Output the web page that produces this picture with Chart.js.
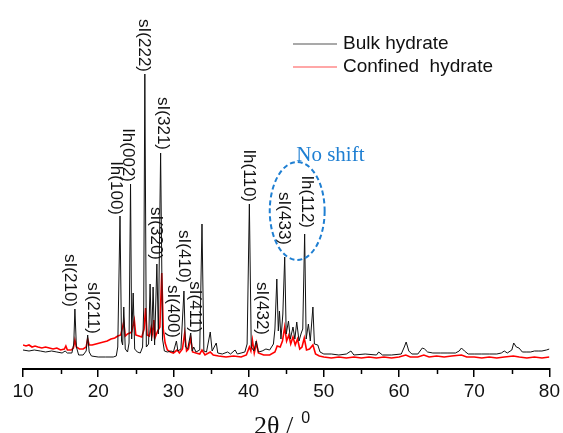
<!DOCTYPE html>
<html>
<head>
<meta charset="utf-8">
<script src="https://cdn.jsdelivr.net/npm/chart.js@4"></script>
<style>
  html, body { margin: 0; padding: 0; background: #fff; }
</style>
</head>
<body>
<canvas id="xrd" width="563" height="433"></canvas>
<script>
// ── Data ──────────────────────────────────────────────
const bulkTheta = [
  10.0, 10.8, 11.5, 12.3, 13.0, 13.8, 14.5, 15.2, 15.6, 15.9, 16.5, 16.75, 16.9, 17.1, 17.4, 18.0, 18.4, 18.6, 18.8, 19.1,
  20.0, 21.0, 22.0, 22.4, 22.6, 22.9, 23.1, 23.25, 23.4, 23.6, 23.9, 24.1, 24.3, 24.45, 24.65, 24.85, 25.2, 25.6, 25.9, 26.05,
  26.2, 26.4, 26.7, 26.9, 27.1, 27.3, 27.5, 27.8, 28.0, 28.3, 28.55, 28.8, 29.2, 29.7, 30.0, 30.4, 30.6, 31.0, 31.4, 31.6,
  31.9, 32.3, 32.5, 32.7, 33.0, 33.5, 33.8, 34.05, 34.4, 34.9, 35.15, 35.7, 35.9, 36.5, 37.2, 37.6, 38.2, 38.5, 39.0, 39.5,
  39.8, 40.1, 40.35, 40.7, 41.0, 41.3, 41.8, 42.3, 42.8, 43.3, 43.5, 43.75, 43.95, 44.1, 44.3, 44.55, 44.8, 45.0, 45.3, 45.55,
  45.9, 46.15, 46.4, 46.7, 47.0, 47.2, 47.45, 47.65, 47.95, 48.2, 48.55, 48.75, 49.2, 49.5, 50.0, 51.0, 52.0, 53.0, 53.6, 54.0,
  55.5, 57.0, 57.3, 57.8, 59.0, 60.3, 60.7, 60.95, 61.3, 61.7, 62.5, 63.1, 63.4, 63.8, 64.5, 65.5, 66.5, 67.5, 68.0, 68.3,
  68.7, 69.2, 70.0, 71.0, 72.0, 73.0, 73.6, 74.0, 74.4, 75.0, 75.25, 75.6, 75.95, 76.4, 77.0, 77.5, 78.0, 78.5, 79.0, 79.6, 80.0
];
const bulkCounts = [
  19, 18, 19, 18, 17, 18, 17, 16, 18, 16, 16, 25, 60, 22, 14, 14, 18, 34, 17, 13,
  12, 12, 12, 13, 22, 153, 28, 24, 62, 20, 17, 26, 185, 30, 76, 20, 17, 16, 22, 60,
  295, 22, 25, 85, 28, 82, 24, 105, 35, 216, 30, 18, 17, 18, 17, 28, 18, 20, 78, 22,
  20, 36, 18, 22, 17, 19, 145, 18, 17, 37, 18, 26, 16, 15, 17, 15, 19, 15, 16, 17,
  25, 165, 22, 18, 28, 17, 18, 20, 19, 25, 40, 90, 38, 58, 30, 55, 112, 35, 48, 30,
  42, 30, 47, 28, 36, 40, 135, 30, 45, 28, 62, 25, 24, 17, 15, 15, 14, 15, 18, 14,
  15, 14, 17, 14, 14, 15, 22, 27, 18, 15, 15, 21, 20, 17, 16, 16, 16, 16, 18, 21,
  18, 15, 15, 15, 15, 15, 16, 18, 16, 19, 26, 22, 21, 17, 17, 17, 18, 18, 18, 19, 20
];

const confinedTheta = [
  10.0, 10.4, 10.8, 11.2, 11.6, 12.0, 12.5, 13.0, 13.5, 14.0, 14.5, 15.0, 15.5, 15.7, 15.9, 16.4, 16.7, 16.9, 17.1, 17.5,
  18.0, 18.4, 18.6, 18.8, 19.2, 19.7, 20.2, 20.7, 21.2, 21.7, 22.2, 22.6, 23.0, 23.4, 23.6, 23.9, 24.2, 24.45, 24.8, 25.0,
  25.4, 25.8, 26.1, 26.3, 26.5, 26.8, 27.05, 27.25, 27.4, 27.6, 27.9, 28.2, 28.45, 28.65, 28.9, 29.2, 29.6, 30.0, 30.5, 30.8,
  31.2, 31.5, 31.75, 32.0, 32.3, 32.55, 33.0, 33.5, 33.8, 34.2, 34.9, 35.3, 36.0, 37.0, 38.0, 39.0, 39.7, 40.1, 40.3, 40.5,
  40.75, 41.05, 41.3, 42.0, 42.8, 43.5, 43.8, 44.2, 44.5, 44.8, 45.05, 45.35, 45.6, 45.9, 46.2, 46.5, 46.8, 47.1, 47.4, 47.7,
  48.1, 48.55, 48.9, 49.4, 50.0, 51.0, 52.0, 53.0, 54.0, 55.0, 56.0, 57.0, 58.0, 59.0, 60.0, 60.9, 61.5, 62.5, 63.3, 64.0,
  65.0, 66.0, 67.0, 68.3, 69.0, 70.0, 71.0, 72.0, 73.0, 74.0, 75.2, 76.0, 77.0, 78.0, 79.0, 80.0
];
const confinedCounts = [
  24, 23, 24, 22, 23, 22, 21, 22, 21, 20, 21, 19, 20, 23, 19, 19, 21, 29, 22, 20,
  20, 22, 30, 24, 24, 25, 26, 27, 28, 30, 31, 33, 34, 47, 33, 35, 36, 37, 49, 34,
  33, 32, 40, 61, 34, 33, 42, 35, 49, 32, 38, 42, 96, 40, 26, 19, 17, 16, 19, 16,
  20, 36, 18, 20, 31, 17, 16, 15, 19, 14, 17, 14, 13, 12, 13, 12, 14, 22, 18, 29,
  16, 26, 16, 14, 14, 17, 23, 22, 28, 42, 28, 34, 25, 32, 24, 30, 20, 22, 31, 19,
  20, 24, 15, 13, 12, 11, 12, 11, 12, 11, 12, 11, 12, 11, 12, 14, 12, 12, 14, 12,
  13, 12, 13, 14, 12, 12, 11, 12, 11, 12, 13, 12, 11, 12, 11, 12
];

const xTicks = [10, 20, 30, 40, 50, 60, 70, 80];
const xMinorTicks = [15, 25, 35, 45, 55, 65, 75];

// peak labels: 2θ of label centre, intensity where the text ends
const peakLabels = [
  { text: "sI(210)", at: 16.23, end: 62 },
  { text: "sI(211)", at: 19.28, end: 35 },
  { text: "Ih(100)", at: 22.33, end: 154 },
  { text: "Ih(002)", at: 23.92, end: 187 },
  { text: "sI(222)", at: 26.11, end: 297 },
  { text: "sI(321)", at: 28.56, end: 219 },
  { text: "sI(320)", at: 27.63, end: 109 },
  { text: "sI(410)", at: 31.34, end: 86 },
  { text: "sI(400)", at: 29.89, end: 31 },
  { text: "sI(411)", at: 32.80, end: 36 },
  { text: "Ih(110)", at: 39.96, end: 167 },
  { text: "sI(432)", at: 41.69, end: 34 },
  { text: "sI(433)", at: 44.73, end: 124 },
  { text: "Ih(112)", at: 47.78, end: 141 }
];

const seriesNames = ["Bulk hydrate", "Confined  hydrate"];
const seriesColors = ["#111111", "#ff0000"];
const BLUE = "#1f7fd2";
const SANS = "'Liberation Sans', Arial, sans-serif";
const SERIF = "'Liberation Serif', 'Times New Roman', serif";

const toPoints = (xs, ys) => xs.map((x, i) => ({ x, y: ys[i] }));

// ── Annotations drawn over the plot ───────────────────
const decorations = {
  id: "decorations",
  afterDraw(chart) {
    const { ctx, scales: { x, y }, chartArea } = chart;
    ctx.save();

    // minor ticks
    ctx.strokeStyle = "#000";
    ctx.lineWidth = 1.5;
    xMinorTicks.forEach(v => {
      const px = Math.round(x.getPixelForValue(v)) + 0.5;
      ctx.beginPath();
      ctx.moveTo(px, chartArea.bottom);
      ctx.lineTo(px, chartArea.bottom + 5);
      ctx.stroke();
    });

    // rotated peak labels
    ctx.fillStyle = "#111";
    ctx.font = "17px " + SANS;
    ctx.textAlign = "right";
    ctx.textBaseline = "middle";
    peakLabels.forEach(l => {
      ctx.save();
      ctx.translate(x.getPixelForValue(l.at), y.getPixelForValue(l.end));
      ctx.rotate(Math.PI / 2);
      ctx.fillText(l.text, 0, 0);
      ctx.restore();
    });

    // dashed ellipse + note
    const cx = x.getPixelForValue(46.46), cy = y.getPixelForValue(158);
    const rx = x.getPixelForValue(46.46 + 3.65) - cx;
    const ry = cy - y.getPixelForValue(158 + 49);
    ctx.strokeStyle = BLUE;
    ctx.lineWidth = 2;
    ctx.setLineDash([5, 3]);
    ctx.beginPath();
    ctx.ellipse(cx, cy, rx, ry, 0, 0, Math.PI * 2);
    ctx.stroke();
    ctx.setLineDash([]);
    ctx.fillStyle = BLUE;
    ctx.font = "21px " + SERIF;
    ctx.textAlign = "left";
    ctx.textBaseline = "alphabetic";
    ctx.fillText("No shift", x.getPixelForValue(46.33), y.getPixelForValue(208));

    // legend
    ctx.font = "19px " + SANS;
    ctx.textBaseline = "middle";
    seriesNames.forEach((name, i) => {
      const ly = 44 + i * 23;
      ctx.strokeStyle = i === 0 ? "#555" : "#ff5050";
      ctx.lineWidth = 1.2;
      ctx.beginPath();
      ctx.moveTo(293, ly);
      ctx.lineTo(337, ly);
      ctx.stroke();
      ctx.fillStyle = "#111";
      ctx.fillText(name, 343, ly);
    });

    // axis title: 2θ / °
    ctx.fillStyle = "#111";
    ctx.font = "26px " + SERIF;
    ctx.textBaseline = "alphabetic";
    const main = "2\u03b8 /";
    ctx.fillText(main, 254, 434);
    const w = ctx.measureText(main).width;
    ctx.font = "16px " + SANS;
    ctx.fillText("0", 254 + w + 8, 423);

    ctx.restore();
  }
};

new Chart(document.getElementById("xrd"), {
  type: "line",
  data: {
    datasets: [
      { label: seriesNames[0], data: toPoints(bulkTheta, bulkCounts), borderColor: seriesColors[0], borderWidth: 1, pointRadius: 0, tension: 0 },
      { label: seriesNames[1], data: toPoints(confinedTheta, confinedCounts), borderColor: seriesColors[1], borderWidth: 1.6, pointRadius: 0, tension: 0 }
    ]
  },
  options: {
    responsive: false,
    animation: false,
    devicePixelRatio: 1,
    layout: { padding: { left: 23, right: 12, top: 9, bottom: 0 } },
    plugins: { legend: { display: false }, tooltip: { enabled: false } },
    scales: {
      x: {
        type: "linear", min: 10, max: 80,
        afterBuildTicks: s => { s.ticks = xTicks.map(v => ({ value: v })); },
        afterFit: s => { s.height = 64; },
        ticks: { font: { family: SANS, size: 19 }, color: "#111", padding: 3, maxRotation: 0 },
        grid: { drawOnChartArea: false, drawTicks: true, tickLength: 8, color: "#000", lineWidth: 1.5 },
        border: { display: true, color: "#000", width: 2 }
      },
      y: { display: false, min: 0, max: 360 }
    }
  },
  plugins: [decorations]
});
</script>
</body>
</html>
